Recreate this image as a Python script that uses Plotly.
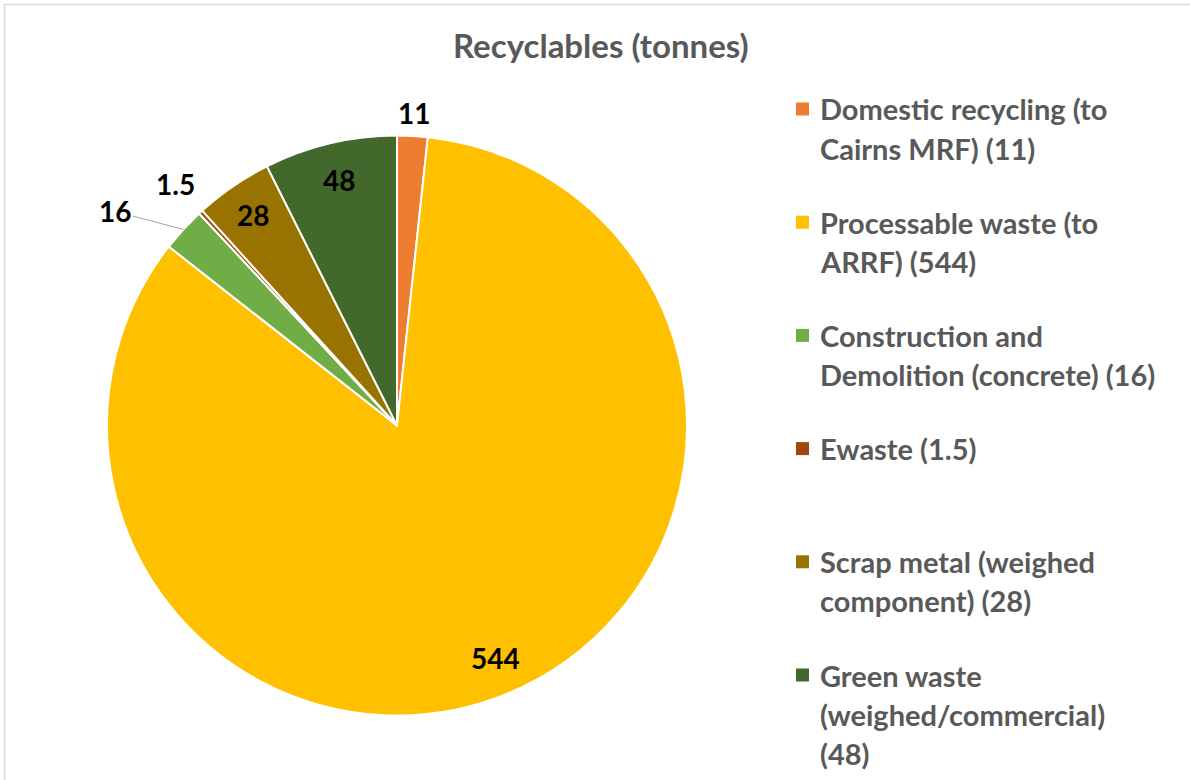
import math
import plotly.graph_objects as go

# ---- data ----
categories = [
    "Domestic recycling (to Cairns MRF)",
    "Processable waste (to ARRF)",
    "Construction and Demolition (concrete)",
    "Ewaste",
    "Scrap metal (weighed component)",
    "Green waste (weighed/commercial)",
]
values = [11, 544, 16, 1.5, 28, 48]
value_labels = ["11", "544", "16", "1.5", "28", "48"]
legend_text = [
    "Domestic recycling (to<br>Cairns MRF) (11)",
    "Processable waste (to<br>ARRF) (544)",
    "Construction and<br>Demolition (concrete) (16)",
    "Ewaste (1.5)",
    "Scrap metal (weighed<br>component) (28)",
    "Green waste<br>(weighed/commercial)<br>(48)",
]
colors = ["#ED7D31", "#FFC000", "#70AD47", "#9E480E", "#997300", "#43682B"]
title_text = "Recyclables (tonnes)"

# ---- style / layout ----
W, H = 1190, 780
FONT = "Lato"
TEXT_GREY = "#595959"
cx_px, cy_px, R = 397, 425.5, 290
label_radius = [1.08, 0.87, 1.0, 1.13, 0.88, 0.87]

dom_x = [(cx_px - R) / W, (cx_px + R) / W]
dom_y = [1 - (cy_px + R) / H, 1 - (cy_px - R) / H]

fig = go.Figure()
fig.add_trace(go.Pie(
    labels=categories,
    values=values,
    sort=False,
    direction="clockwise",
    rotation=0,
    marker=dict(colors=colors, line=dict(color="white", width=2)),
    textinfo="none",
    showlegend=False,
    domain=dict(x=dom_x, y=dom_y),
))

annotations = []
total = sum(values)
cum = 0.0
for i, v in enumerate(values):
    theta = 2 * math.pi * (cum + v / 2) / total
    cum += v
    f = label_radius[i]
    xp = cx_px + R * f * math.sin(theta)
    yp = cy_px - R * f * math.cos(theta)
    ann = dict(
        x=xp / W, y=1 - yp / H, xref="paper", yref="paper",
        text=value_labels[i], showarrow=False,
        font=dict(family=FONT, size=28, color="black", weight="bold"),
        xanchor="center", yanchor="middle",
    )
    if value_labels[i] == "16":
        ann.update(showarrow=True, ax=-68, ay=-18, arrowhead=0,
                   arrowwidth=1, arrowcolor="#A6A6A6", standoff=0)
    annotations.append(ann)

# title
annotations.append(dict(
    x=601 / W, y=1 - 45 / H, xref="paper", yref="paper", text=title_text,
    showarrow=False, xanchor="center", yanchor="middle",
    font=dict(family=FONT, size=33, color=TEXT_GREY, weight="bold"),
))

# custom legend
shapes = []
leg_top, leg_step, line_step = 109, 113.2, 39
for i, txt in enumerate(legend_text):
    y0 = leg_top + leg_step * i
    shapes.append(dict(
        type="rect", xref="paper", yref="paper",
        x0=796 / W, x1=809 / W, y0=1 - (y0 - 6.5) / H, y1=1 - (y0 + 6.5) / H,
        fillcolor=colors[i], line=dict(width=0),
    ))
    for j, line in enumerate(txt.split("<br>")):
        annotations.append(dict(
            x=818 / W, y=1 - (y0 + line_step * j) / H, xref="paper", yref="paper",
            text=line, showarrow=False, xanchor="left", yanchor="middle",
            font=dict(family=FONT, size=29, color=TEXT_GREY, weight="bold"),
        ))

# chart border
shapes.append(dict(
    type="rect", xref="paper", yref="paper",
    x0=4.5 / W, x1=1.05, y0=-0.05, y1=1 - 4.5 / H,
    line=dict(color="#D9D9D9", width=1.5), fillcolor="rgba(0,0,0,0)",
))

fig.update_layout(
    width=W, height=H,
    margin=dict(l=0, r=0, t=0, b=0),
    paper_bgcolor="white", plot_bgcolor="white",
    annotations=annotations, shapes=shapes,
    font=dict(family=FONT),
)

fig.write_html("out.html", config={"displayModeBar": False},
               post_script="document.body.style.margin='0px';")
